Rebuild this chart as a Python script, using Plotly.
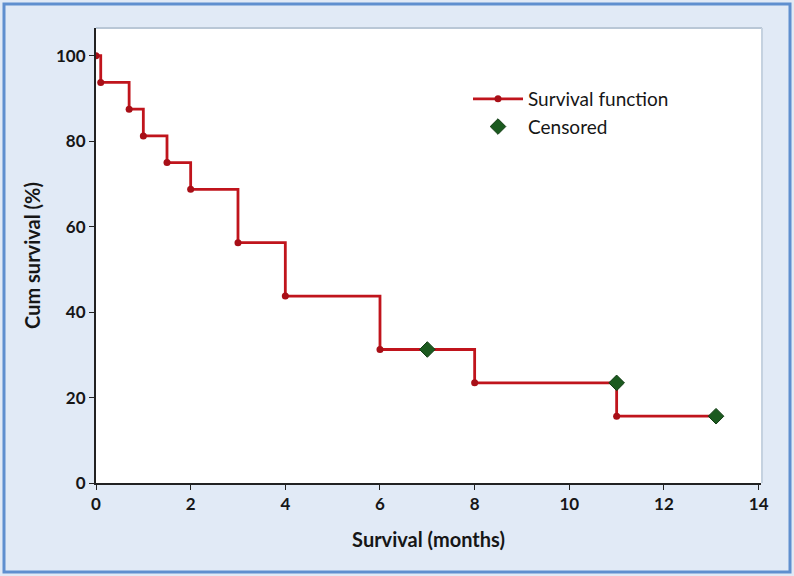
import plotly.graph_objects as go

# Kaplan-Meier estimate: event times (months) and survival after each event (%)
event_months = [0, 0.1, 0.7, 1.0, 1.5, 2.0, 3.0, 4.0, 6.0, 8.0, 11.0, 13.1]
survival_pct = [100, 93.75, 87.5, 81.25, 75.0, 68.75, 56.25, 43.75, 31.25, 23.44, 15.63, 15.63]

# Censored observations
censored_months = [7.0, 11.0, 13.1]
censored_pct = [31.25, 23.44, 15.63]

x_ticks = [0, 2, 4, 6, 8, 10, 12, 14]
y_ticks = [0, 20, 40, 60, 80, 100]

FONT = "Lato"
TEXT = "#161616"
LINE_RED = "#c0141c"
DOT_RED = "#a80f17"
GREEN = "#1b5a1f"

fig = go.Figure()

# step curve with dots at each event
fig.add_trace(go.Scatter(
    x=event_months,
    y=survival_pct,
    mode="lines+markers",
    line=dict(color=LINE_RED, width=2.8, shape="hv"),
    marker=dict(color=DOT_RED, size=7, symbol="circle"),
    name="Survival function",
))

fig.add_trace(go.Scatter(
    x=censored_months,
    y=censored_pct,
    mode="markers",
    marker=dict(color=GREEN, size=12, symbol="diamond",
                line=dict(color="#123d14", width=1)),
    name="Censored",
))

# frame plus plot-area edge
W, H = 794, 576
L, R, T, B = 96, 33, 28, 93
pw, ph = W - L - R, H - T - B


def px_x(p):
    return (p - L) / pw


def px_y(p):
    return (H - B - p) / ph


shapes = [
    dict(type="rect", xref="paper", yref="paper",
         x0=px_x(4), x1=px_x(790), y0=px_y(572), y1=px_y(4),
         line=dict(color="#5f8fcf", width=3), fillcolor="rgba(0,0,0,0)", layer="below"),
    dict(type="line", xref="paper", yref="paper",
         x0=0, x1=px_x(762), y0=1, y1=1,
         line=dict(color="#b9c7d6", width=2)),
    dict(type="line", xref="paper", yref="paper",
         x0=px_x(762), x1=px_x(762), y0=0, y1=1,
         line=dict(color="#c5d2e0", width=2)),
]

tick_font = dict(family=FONT, size=17, color=TEXT, weight=700)
title_font = dict(family=FONT, size=20, color=TEXT, weight=700)

fig.update_layout(
    width=W, height=H,
    margin=dict(l=L, r=R, t=T, b=B),
    paper_bgcolor="#e1eaf6",
    plot_bgcolor="#ffffff",
    font=dict(family=FONT, color=TEXT, size=15),
    showlegend=True,
    legend=dict(x=px_x(468), y=px_y(80), xanchor="left", yanchor="top",
                bgcolor="rgba(0,0,0,0)", font=dict(family=FONT, size=19, color=TEXT),
                itemwidth=50, tracegroupgap=8),
    shapes=shapes,
    xaxis=dict(range=[0, 14.05], tickvals=x_ticks, ticks="outside", ticklen=5,
               tickcolor="#222", showline=True, linecolor="#222", linewidth=2,
               showgrid=False, zeroline=False, tickfont=tick_font,
               title=dict(text="Survival (months)", standoff=20, font=title_font)),
    yaxis=dict(range=[0, 106.5], tickvals=y_ticks, ticks="outside", ticklen=5,
               tickcolor="#222", showline=True, linecolor="#222", linewidth=2,
               showgrid=False, zeroline=False, tickfont=tick_font,
               title=dict(text="Cum survival (%)", standoff=10, font=title_font)),
)

fig.write_html("out.html")
